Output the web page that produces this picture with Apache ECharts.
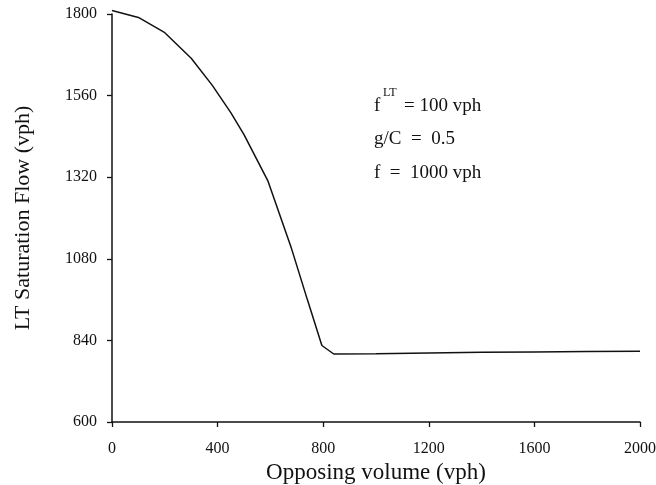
<!DOCTYPE html>
<html>
<head>
<meta charset="utf-8">
<script src="https://cdn.jsdelivr.net/npm/echarts@6/dist/echarts.min.js"></script>
<style>
  html, body { margin: 0; padding: 0; background: #fff; }
  #chart-container { width: 656px; height: 485px; }
</style>
</head>
<body>
<div id="chart-container"></div>
<script>
// opposing volume (vph) vs LT saturation flow (vph)
const opposingVolume = [0, 100, 200, 300, 380, 450, 500, 590, 680, 740, 795, 840, 1000, 1200, 1400, 1600, 1800, 2000];
const satFlow = [1810, 1790, 1745, 1670, 1590, 1510, 1445, 1310, 1110, 960, 825, 800, 801, 803, 805, 806, 807, 808];

const xTicks = [0, 400, 800, 1200, 1600, 2000];
const yTicks = [600, 840, 1080, 1320, 1560, 1800];

const serif = '"Liberation Serif", "DejaVu Serif", serif';

function init() {
  let data = opposingVolume.map((v, i) => [v, satFlow[i]]);

  let option = {
    backgroundColor: '#fff',
    animation: false,
    grid: {
      left: 112,
      right: 16,
      top: 14,
      bottom: 63,
      outerBoundsMode: 'none',
    },
    xAxis: {
      type: 'value',
      min: xTicks[0],
      max: xTicks[xTicks.length - 1],
      interval: 400,
      name: 'Opposing volume (vph)',
      nameLocation: 'middle',
      nameGap: 34,
      nameTextStyle: { fontFamily: serif, fontSize: 23, color: '#111' },
      axisLine: { lineStyle: { color: '#111', width: 1.5 } },
      axisTick: { length: 5, lineStyle: { color: '#111', width: 1.3 } },
      axisLabel: {
        fontFamily: serif,
        fontSize: 16,
        color: '#111',
        margin: 19,
        formatter: (v) => String(v),
      },
      splitLine: { show: false },
    },
    yAxis: {
      type: 'value',
      min: yTicks[0],
      max: yTicks[yTicks.length - 1],
      interval: 240,
      name: 'LT Saturation Flow (vph)',
      nameLocation: 'middle',
      nameGap: 78,
      nameTextStyle: { fontFamily: serif, fontSize: 22, color: '#111' },
      axisLine: { show: true, lineStyle: { color: '#111', width: 1.5 } },
      axisTick: { show: true, length: 5, lineStyle: { color: '#111', width: 1.3 } },
      axisLabel: {
        fontFamily: serif,
        fontSize: 16,
        color: '#111',
        margin: 15,
        formatter: (v) => String(v),
      },
      splitLine: { show: false },
    },
    series: [
      {
        type: 'line',
        data,
        symbol: 'none',
        smooth: false,
        clip: false,
        lineStyle: { color: '#111', width: 1.5 },
      },
    ],
    graphic: [
      { type: 'text', left: 374, top: 97, style: { text: 'f', font: '19px ' + serif, fill: '#111' } },
      { type: 'text', left: 383, top: 87, style: { text: 'LT', font: '12px ' + serif, fill: '#111' } },
      { type: 'text', left: 404, top: 97, style: { text: '= 100 vph', font: '19px ' + serif, fill: '#111' } },
      { type: 'text', left: 374, top: 130, style: { text: 'g/C  =  0.5', font: '19px ' + serif, fill: '#111' } },
      { type: 'text', left: 374, top: 164, style: { text: 'f  =  1000 vph', font: '19px ' + serif, fill: '#111' } },
    ],
  };

  var myChart = echarts.init(document.getElementById('chart-container'));
  myChart.setOption(option);
}
init();
</script>
</body>
</html>
